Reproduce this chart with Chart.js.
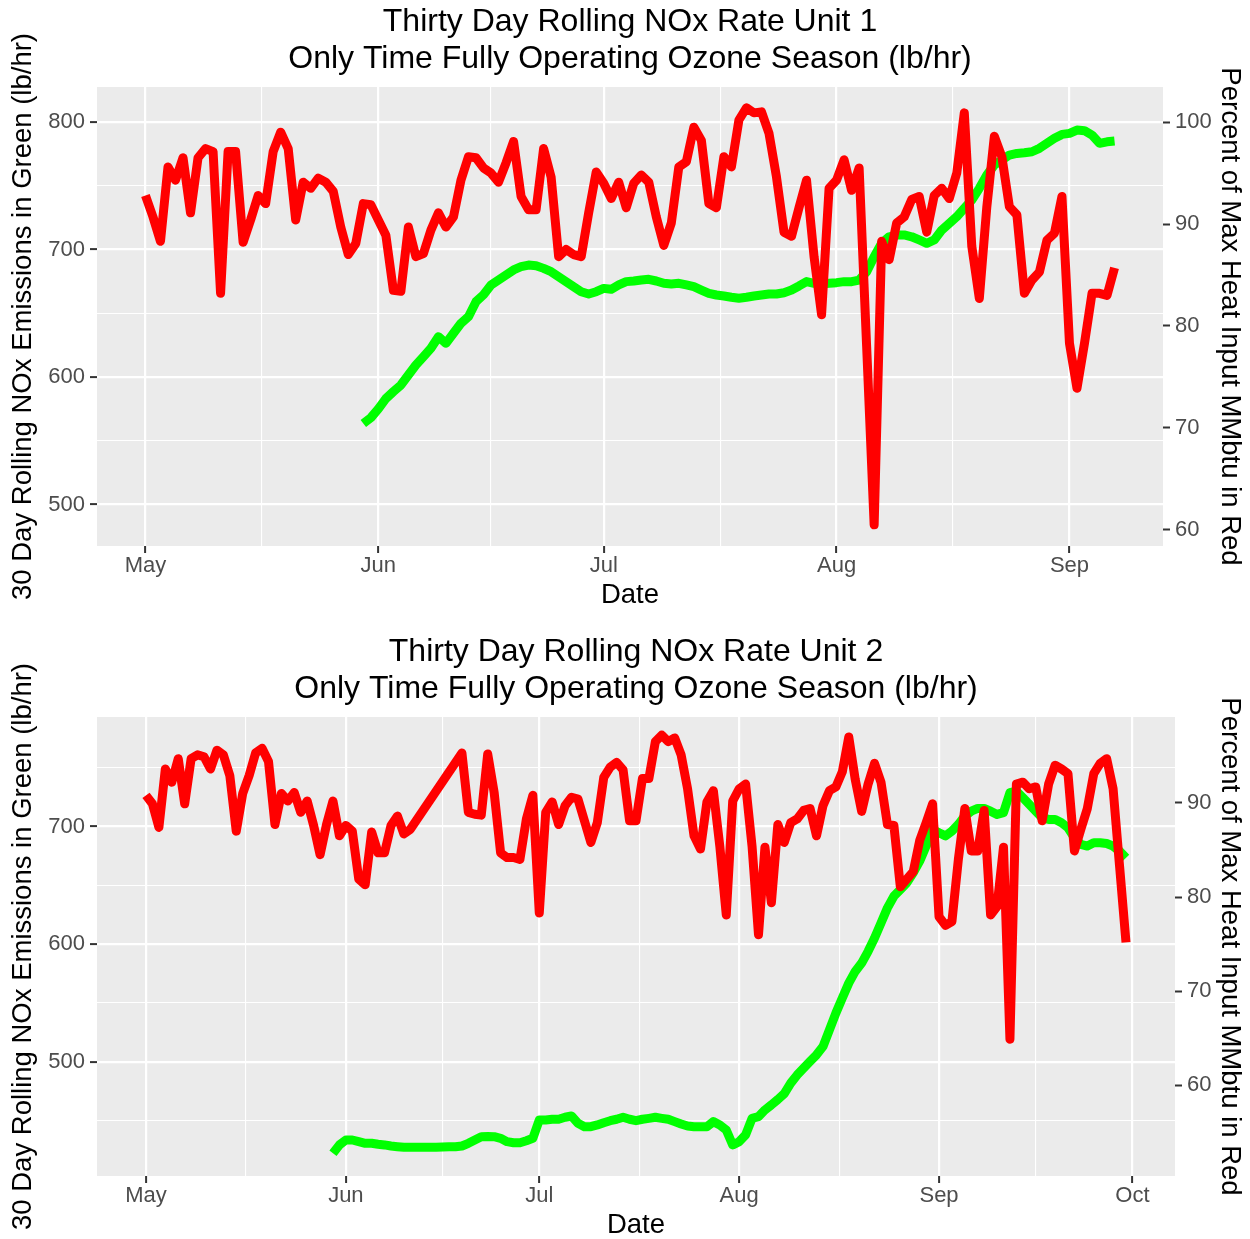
<!DOCTYPE html>
<html>
<head>
<meta charset="utf-8">
<script src="https://cdn.jsdelivr.net/npm/chart.js@4.4.1/dist/chart.umd.min.js"></script>
<style>
  body { margin: 0; background: #ffffff; }
  canvas { position: absolute; left: 0; display: block; }
</style>
</head>
<body>
<canvas id="unit1" width="1250" height="630" style="top:0px"></canvas>
<canvas id="unit2" width="1250" height="609" style="top:630px"></canvas>
<script>
// x values are days counted from May 1
const monthTicks = [0, 31, 61, 92, 123, 153];
const monthLabels = ['May', 'Jun', 'Jul', 'Aug', 'Sep', 'Oct'];

// Unit 1 - percent of max heat input (red), daily from May 1
const unit1HeatStart = 0;
const unit1Heat = [
  92.8, 90.7, 88.3, 95.6, 94.3, 96.5, 91.1, 96.5, 97.4, 97.1,
  83.2, 97.1, 97.1, 88.2, 90.4, 92.8, 92.0, 97.1, 99.0, 97.4,
  90.4, 94.1, 93.5, 94.5, 94.1, 93.2, 89.7, 87.0, 88.1, 92.0,
  91.9, 90.4, 88.9, 83.5, 83.4, 89.7, 86.8, 87.1, 89.4, 91.1,
  89.7, 90.7, 94.3, 96.6, 96.5, 95.5, 95.0, 94.1, 96.0, 98.1,
  92.7, 91.4, 91.4, 97.4, 94.6, 86.8, 87.5, 87.0, 86.8, 91.1,
  95.1, 94.0, 92.5, 94.1, 91.6, 94.0, 94.8, 94.1, 90.7, 87.9,
  90.1, 95.6, 96.1, 99.5, 98.2, 92.0, 91.6, 96.6, 95.6, 100.2,
  101.4, 100.9, 101.0, 98.9, 94.6, 89.2, 88.8, 91.6, 94.3, 86.8,
  81.1, 93.5, 94.3, 96.3, 93.3, 95.5, 78.0, 60.5, 88.3, 86.5,
  90.1, 90.7, 92.4, 92.7, 89.2, 92.8, 93.5, 92.5, 95.0, 100.9,
  87.8, 82.7, 91.7, 98.6, 96.6, 91.7, 90.9, 83.2, 84.5, 85.3,
  88.4, 89.1, 92.7, 78.3, 73.9, 78.3, 83.2, 83.2, 83.0, 85.7
];

// Unit 1 - 30 day rolling NOx lb/hr (green), daily from May 30
const unit1NoxStart = 29;
const unit1Nox = [
  563.5, 568, 575, 583, 588.5, 593.7, 601.6, 609.4, 615.9, 622.5,
  631.6, 626.4, 634.3, 642.1, 647.3, 659.1, 664.5, 672.2, 676.1, 680,
  684, 686.5, 687.8, 687.3, 685.2, 682.6, 678.7, 674.8, 670.8, 666.9,
  665.1, 666.9, 669.5, 668.8, 672.2, 674.8, 675.3, 676.1, 676.6, 675.3,
  673.5, 673, 673.5, 672.2, 670.8, 668.2, 665.6, 664.3, 663.5, 662.5,
  661.7, 662.5, 663.5, 664.3, 665.1, 665.1, 666.1, 668.2, 671.4, 674.8,
  673.5, 673, 673.5, 674, 674.8, 674.8, 676, 682.6, 694.4, 704.9,
  710, 711.4, 711.4, 710, 707.5, 704.9, 707.5, 715.3, 720.5, 725.7,
  732.3, 738.8, 748, 758.4, 766.3, 770.2, 774.1, 775.4, 775.9, 776.7,
  779.4, 783.3, 787.2, 790.3, 791.1, 793.7, 793.2, 789.8, 783.3, 784.5,
  785.1
];

// Unit 2 - percent of max heat input (red), daily from May 1 (null = no reading)
const unit2HeatStart = 0;
const unit2Heat = [
  90.8, 89.9, 87.4, 93.6, 92.2, 94.7, 89.9, 94.7, 95.1, 94.9,
  93.6, 95.6, 95.1, 92.9, 87.0, 91.0, 92.9, 95.3, 95.8, 94.4,
  87.7, 91.0, 90.2, 91.1, 89.0, 90.2, 87.6, 84.5, 87.7, 90.2,
  86.5, 87.6, 87.0, 81.9, 81.3, 86.9, 84.7, 84.7, 87.6, 88.6,
  86.7, 87.2, null, null, null, null, null, null, null, 95.3,
  89.0, 88.8, 88.7, 95.2, 91.1, 84.7, 84.2, 84.2, 84.0, 88.3,
  90.8, 78.3, 89.0, 90.1, 87.7, 89.7, 90.6, 90.4, 88.1, 85.8,
  87.9, 92.7, 93.8, 94.3, 93.5, 88.1, 88.1, 92.6, 92.6, 96.5,
  97.2, 96.5, 96.9, 95.1, 91.5, 86.5, 85.1, 90.1, 91.3, 85.4,
  78.1, 90.2, 91.5, 92.0, 85.4, 76.0, 85.3, 79.4, 87.7, 85.8,
  87.9, 88.3, 89.2, 89.4, 86.5, 89.7, 91.3, 91.7, 93.3, 97.0,
  92.5, 89.1, 92.0, 94.2, 92.2, 87.7, 87.6, 81.1, 81.9, 82.7,
  86.0, 87.9, 89.9, 77.9, 77.0, 77.4, 84.0, 89.4, 84.9, 84.9,
  89.2, 78.1, 79.0, 85.3, 64.9, 92.0, 92.2, 91.5, 91.7, 88.1,
  92.0, 94.0, 93.6, 93.1, 84.9, 87.2, 89.4, 93.1, 94.2, 94.7,
  91.5, 83.3, 75.2
];

// Unit 2 - 30 day rolling NOx lb/hr (green), daily from May 30
const unit2NoxStart = 29;
const unit2Nox = [
  422.3, 429.4, 433.6, 433.6, 432.2, 430.8, 430.8, 430, 429.4, 428.5,
  427.9, 427.4, 427.4, 427.4, 427.4, 427.4, 427.4, 427.6, 427.9, 427.9,
  428.5, 430.8, 433.6, 436.4, 436.5, 436.4, 435, 432.2, 431.3, 431.3,
  433, 435, 450.6, 450.6, 451.2, 451.2, 452.9, 454, 447.8, 444.9,
  444.9, 446.4, 448.3, 450, 451.2, 452.9, 451.2, 450, 451.2, 452,
  452.9, 452, 451.2, 449.2, 447.2, 445.5, 444.9, 444.9, 444.9, 449.2,
  446.4, 442.1, 429.4, 432.2, 437.9, 452, 453.4, 459.1, 463.4, 468,
  473, 481.9, 488.9, 494.6, 500.3, 506, 513, 527.2, 541.4, 554.2,
  566.9, 576.8, 583.9, 593.9, 605.2, 618, 630.8, 640.7, 646.4, 652.1,
  660.6, 670.5, 683.3, 697.4, 694.6, 692, 696, 701.7, 708.8, 713,
  715.3, 715.3, 713, 710.2, 711.7, 728.7, 730, 724.4, 718.7, 713,
  707.4, 706, 706, 703.1, 698.9, 690.4, 684.7, 683.3, 686.1, 686.1,
  685.5, 683.3, 679, 673.3
];

const font = 'Liberation Sans, Arial, sans-serif';

// grey panel behind the grid, like ggplot
const panelBg = {
  id: 'panelBg',
  beforeDraw(chart) {
    const { ctx, chartArea: a } = chart;
    ctx.save();
    ctx.fillStyle = '#EBEBEB';
    ctx.fillRect(a.left, a.top, a.right - a.left, a.bottom - a.top);
    ctx.restore();
  }
};

function toPoints(start, values) {
  return values.map((v, i) => ({ x: start + i, y: v }));
}

// majors at month starts, minors half way between
function xTickValues(xMax) {
  const vals = [];
  for (let i = 0; i < monthTicks.length; i++) {
    if (monthTicks[i] <= xMax) vals.push(monthTicks[i]);
    if (i + 1 < monthTicks.length) {
      const mid = (monthTicks[i] + monthTicks[i + 1]) / 2;
      if (mid <= xMax) vals.push(mid);
    }
  }
  return vals;
}

function makeChart(id, cfg) {
  const isMajorX = v => monthTicks.indexOf(v) >= 0;
  new Chart(document.getElementById(id), {
    type: 'line',
    data: {
      datasets: [
        {
          data: toPoints(cfg.heatStart, cfg.heat),
          yAxisID: 'y1',
          borderColor: '#FF0000',
          borderWidth: 9,
          pointRadius: 0,
          tension: 0,
          spanGaps: true,
          borderJoinStyle: 'round'
        },
        {
          data: toPoints(cfg.noxStart, cfg.nox),
          yAxisID: 'y',
          borderColor: '#00FF00',
          borderWidth: 9,
          pointRadius: 0,
          tension: 0,
          borderJoinStyle: 'round'
        }
      ]
    },
    plugins: [panelBg],
    options: {
      responsive: false,
      animation: false,
      devicePixelRatio: 1,
      layout: { padding: 0 },
      plugins: {
        legend: { display: false },
        tooltip: { enabled: false },
        title: {
          display: true,
          fullSize: false,
          text: cfg.title,
          color: '#000000',
          font: { family: font, size: 32, weight: 'normal', lineHeight: 1.156 },
          padding: { top: 4, bottom: 9 }
        }
      },
      scales: {
        x: {
          type: 'linear',
          min: cfg.xMin,
          max: cfg.xMax,
          afterBuildTicks: s => { s.ticks = xTickValues(cfg.xMax).map(v => ({ value: v })); },
          afterFit: s => { s.height = cfg.xHeight; },
          border: { display: false },
          grid: {
            color: '#FFFFFF',
            lineWidth: c => isMajorX(c.tick.value) ? 2.2 : 1.1,
            tickColor: c => isMajorX(c.tick.value) ? '#333333' : 'rgba(0,0,0,0)',
            tickWidth: 2,
            tickLength: 7
          },
          ticks: {
            autoSkip: false,
            maxRotation: 0,
            padding: 0,
            color: '#4D4D4D',
            font: { family: font, size: 22 },
            callback: v => isMajorX(v) ? monthLabels[monthTicks.indexOf(v)] : ''
          },
          title: {
            display: true,
            text: 'Date',
            color: '#000000',
            font: { family: font, size: 27.5, lineHeight: 1 },
            padding: { top: 0, bottom: cfg.xTitlePad }
          }
        },
        y: {
          position: 'left',
          min: cfg.noxMin,
          max: cfg.noxMax,
          afterBuildTicks: s => { s.ticks = cfg.noxGrid.map(v => ({ value: v })); },
          afterFit: s => { s.width = 97; },
          border: { display: false },
          grid: {
            color: '#FFFFFF',
            lineWidth: c => c.tick.value % 100 === 0 ? 2.2 : 1.1,
            tickColor: c => c.tick.value % 100 === 0 ? '#333333' : 'rgba(0,0,0,0)',
            tickWidth: 2,
            tickLength: 7
          },
          ticks: {
            padding: 5,
            color: '#4D4D4D',
            font: { family: font, size: 22 },
            callback: v => v % 100 === 0 ? String(v) : ''
          },
          title: {
            display: true,
            text: '30 Day Rolling NOx Emissions in Green (lb/hr)',
            color: '#000000',
            font: { family: font, size: 27.5, lineHeight: 1 },
            padding: { top: 9.5, bottom: 0 }
          }
        },
        y1: {
          position: 'right',
          min: cfg.noxMin / 8,
          max: cfg.noxMax / 8,
          afterBuildTicks: s => { s.ticks = cfg.heatTicks.map(v => ({ value: v })); },
          afterFit: s => { s.width = cfg.rightWidth; },
          border: { display: false },
          grid: {
            drawOnChartArea: false,
            tickColor: '#333333',
            tickWidth: 2,
            tickLength: 7
          },
          ticks: {
            padding: 5,
            color: '#4D4D4D',
            font: { family: font, size: 22 }
          },
          title: {
            display: true,
            text: 'Percent of Max Heat Input MMbtu in Red',
            color: '#000000',
            font: { family: font, size: 27.5, lineHeight: 1 },
            padding: { top: 6.5, bottom: 0 }
          }
        }
      }
    }
  });
}

makeChart('unit1', {
  title: ['Thirty Day Rolling NOx Rate Unit 1', 'Only Time Fully Operating Ozone Season (lb/hr)'],
  heatStart: unit1HeatStart, heat: unit1Heat,
  noxStart: unit1NoxStart, nox: unit1Nox,
  xMin: -6.45, xMax: 135.45,
  noxMin: 467.4, noxMax: 827.5,
  noxGrid: [500, 550, 600, 650, 700, 750, 800],
  heatTicks: [60, 70, 80, 90, 100],
  rightWidth: 87, xHeight: 84, xTitlePad: 20.5
});

makeChart('unit2', {
  title: ['Thirty Day Rolling NOx Rate Unit 2', 'Only Time Fully Operating Ozone Season (lb/hr)'],
  heatStart: unit2HeatStart, heat: unit2Heat,
  noxStart: unit2NoxStart, nox: unit2Nox,
  xMin: -7.6, xMax: 159.6,
  noxMin: 403, noxMax: 793,
  noxGrid: [450, 500, 550, 600, 650, 700, 750],
  heatTicks: [60, 70, 80, 90],
  rightWidth: 75, xHeight: 63, xTitlePad: 0
});
</script>
</body>
</html>
